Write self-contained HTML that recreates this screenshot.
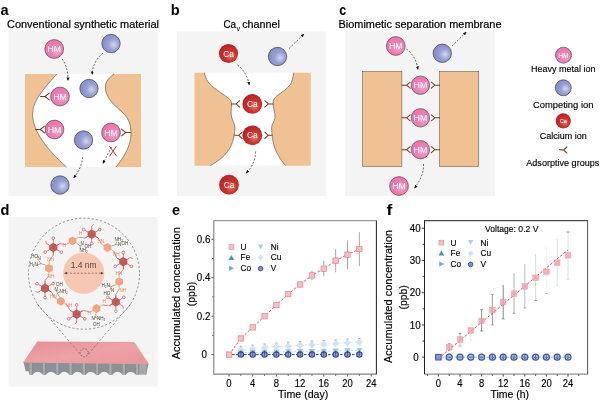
<!DOCTYPE html>
<html lang="en"><head><meta charset="utf-8"><title>Figure</title>
<style>html,body{margin:0;padding:0;background:#fff;}body{width:600px;height:402px;overflow:hidden;}svg{display:block;will-change:transform;}text{font-family:"Liberation Sans", sans-serif;}.lbl{font-weight:bold;font-size:14.6px;fill:#000;}.ttl{font-size:10.4px;fill:#000;stroke:#000;stroke-width:0.2px;}.lg{font-size:9.3px;fill:#000;stroke:#000;stroke-width:0.15px;}.ion{font-size:8px;fill:#fff;text-anchor:middle;}.tk{font-size:10.4px;fill:#000;stroke:#000;stroke-width:0.15px;}.ax{font-size:10.2px;fill:#000;stroke:#000;stroke-width:0.15px;}.ch{font-size:4.5px;fill:#4e3c2a;}.cho{font-size:4.6px;fill:#ee8558;}.chr{font-size:3.2px;fill:#c0504d;}</style></head><body>
<svg width="600" height="402" viewBox="0 0 600 402">
<defs>
<radialGradient id="gHM" cx="0.62" cy="0.6" r="0.7"><stop offset="0" stop-color="#f6a6cc"/><stop offset="0.45" stop-color="#ee7fb3"/><stop offset="1" stop-color="#ea6fa8"/></radialGradient>
<radialGradient id="gB" cx="0.64" cy="0.56" r="0.6"><stop offset="0" stop-color="#d3d7f0"/><stop offset="0.5" stop-color="#979fd3"/><stop offset="1" stop-color="#858ec9"/></radialGradient>
<radialGradient id="gCa" cx="0.6" cy="0.62" r="0.65"><stop offset="0" stop-color="#e8776a"/><stop offset="0.45" stop-color="#c9342f"/><stop offset="1" stop-color="#b81f24"/></radialGradient>
<linearGradient id="gPink" x1="0" y1="0" x2="1" y2="1"><stop offset="0" stop-color="#e58f95"/><stop offset="0.5" stop-color="#eca2a6"/><stop offset="1" stop-color="#e8969b"/></linearGradient>
<linearGradient id="gSlab" x1="0" y1="0" x2="0" y2="1"><stop offset="0" stop-color="#8d9196"/><stop offset="1" stop-color="#a9adb2"/></linearGradient>
<marker id="ah" viewBox="0 0 10 10" refX="7" refY="5" markerWidth="3.6" markerHeight="3.6" orient="auto-start-reverse" markerUnits="userSpaceOnUse"><path d="M0,0.8 L10,5 L0,9.2 z" fill="#111"/></marker>
</defs>
<rect width="600" height="402" fill="#fff"/>
<text class="lbl" x="0.4" y="14.7">a</text>
<text class="ttl" x="7" y="27.8" textLength="152" lengthAdjust="spacingAndGlyphs">Conventional synthetic material</text>
<rect x="8.5" y="31.5" width="149.3" height="164.7" fill="#f4f4f4"/>
<rect x="25" y="74" width="116" height="93" fill="#fff"/>
<path d="M25,74 L57,74 C46,86 33,100 32.6,113 C32.2,132 48,150 66.5,167 L25,167 Z" fill="#f0c192"/>
<path d="M57,74 C46,86 33,100 32.6,113 C32.2,132 48,150 66.5,167" fill="none" stroke="#3a2a1e" stroke-width="0.5"/>
<path d="M141,74 L114,74 C107,79 104.5,84 105.6,90 C107.5,101 118,108 124,114 C129,119 131,126 131,133 C131,146 124,157 116,167 L141,167 Z" fill="#f0c192"/>
<path d="M114,74 C107,79 104.5,84 105.6,90 C107.5,101 118,108 124,114 C129,119 131,126 131,133 C131,146 124,157 116,167" fill="none" stroke="#3a2a1e" stroke-width="0.5"/>
<path d="M40.5,96.5 L45.0,96.5 M49.2,93.1 L45.0,96.5 L49.2,99.9" fill="none" stroke="#6e4020" stroke-width="1.05" stroke-linejoin="round" stroke-linecap="round"/>
<path d="M35.5,129.5 L40.3,129.5 M44.5,126.1 L40.3,129.5 L44.5,132.9" fill="none" stroke="#6e4020" stroke-width="1.05" stroke-linejoin="round" stroke-linecap="round"/>
<path d="M130.5,132.5 L125.7,132.5 M121.5,129.1 L125.7,132.5 L121.5,135.9" fill="none" stroke="#6e4020" stroke-width="1.05" stroke-linejoin="round" stroke-linecap="round"/>
<circle cx="54.2" cy="49" r="9.4" fill="url(#gHM)" stroke="#3a3a3a" stroke-width="0.6"/>
<text class="ion" x="54.2" y="52.17" style="font-size:8.8px">HM</text>
<circle cx="111" cy="43.5" r="9.2" fill="url(#gB)" stroke="#2a2a2a" stroke-width="0.6"/>
<circle cx="60" cy="96.5" r="9.4" fill="url(#gHM)" stroke="#3a3a3a" stroke-width="0.6"/>
<text class="ion" x="60" y="99.67" style="font-size:8.8px">HM</text>
<circle cx="89" cy="88.5" r="9.2" fill="url(#gB)" stroke="#2a2a2a" stroke-width="0.6"/>
<circle cx="54.5" cy="129.5" r="9.4" fill="url(#gHM)" stroke="#3a3a3a" stroke-width="0.6"/>
<text class="ion" x="54.5" y="132.67" style="font-size:8.8px">HM</text>
<circle cx="83.5" cy="140" r="9.2" fill="url(#gB)" stroke="#2a2a2a" stroke-width="0.6"/>
<circle cx="111" cy="132.5" r="9.4" fill="url(#gHM)" stroke="#3a3a3a" stroke-width="0.6"/>
<text class="ion" x="111" y="135.67" style="font-size:8.8px">HM</text>
<circle cx="60" cy="185" r="9.2" fill="url(#gB)" stroke="#2a2a2a" stroke-width="0.6"/>
<path d="M62,59 C66,64 68,71 68,80" fill="none" stroke="#111" stroke-width="0.6" stroke-dasharray="2 1.5" marker-end="url(#ah)"/>
<path d="M103,53 C97,58 92.5,65 92.2,74" fill="none" stroke="#111" stroke-width="0.6" stroke-dasharray="2 1.5" marker-end="url(#ah)"/>
<path d="M82.6,157 C82,165 79,171 74,177.5" fill="none" stroke="#111" stroke-width="0.6" stroke-dasharray="2 1.5" marker-end="url(#ah)"/>
<path d="M111.5,147 L103.2,163" fill="none" stroke="#111" stroke-width="0.6" stroke-dasharray="2 1.5" marker-end="url(#ah)"/>
<path d="M109.4,146 L116.8,156.4 M116.4,146 L109.6,156.4" fill="none" stroke="#c8363a" stroke-width="1"/>
<text class="lbl" x="170.8" y="14.7">b</text>
<text class="ttl" x="223.5" y="27.8"><tspan textLength="12.6" lengthAdjust="spacingAndGlyphs">Ca</tspan><tspan dy="2.9" dx="0.3" style="font-size:7.2px;stroke-width:0.05px">v</tspan><tspan dy="-2.9" dx="2.2" textLength="37.6" lengthAdjust="spacingAndGlyphs">channel</tspan></text>
<rect x="177" y="31.5" width="148.9" height="164.7" fill="#f4f4f4"/>
<rect x="194.4" y="72.7" width="116.4" height="93" fill="#fff"/>
<path d="M204.4,72.7 C206,80 209,84 213,87 C218,91 223,94 227,97 C230,99 231.6,101 231.6,104 C231.4,109 230.6,113 231.6,117 C232.6,121 235,124 235,128 C235,131 234.4,133 234,136 C233,142 231,147 228,151 C224,157 217,162 210.2,165.7 L194.4,165.7 L194.4,72.7 Z" fill="#f0c192"/>
<path d="M204.4,72.7 C206,80 209,84 213,87 C218,91 223,94 227,97 C230,99 231.6,101 231.6,104 C231.4,109 230.6,113 231.6,117 C232.6,121 235,124 235,128 C235,131 234.4,133 234,136 C233,142 231,147 228,151 C224,157 217,162 210.2,165.7" fill="none" stroke="#3a2a1e" stroke-width="0.5"/>
<path d="M293.6,72.7 C293,78 292,82 290,85 C287,89 282,92 278,95 C274.5,97.5 273,100 273,103.5 C273,108 275.4,113 275,117.5 C274.6,121.5 271.6,124 271.6,128 C271.6,131 272,134 272.4,137.5 C273,143 274.6,148.5 277,153 C279.4,158 282.4,162 285.6,165.7 L310.8,165.7 L310.8,72.7 Z" fill="#f0c192"/>
<path d="M293.6,72.7 C293,78 292,82 290,85 C287,89 282,92 278,95 C274.5,97.5 273,100 273,103.5 C273,108 275.4,113 275,117.5 C274.6,121.5 271.6,124 271.6,128 C271.6,131 272,134 272.4,137.5 C273,143 274.6,148.5 277,153 C279.4,158 282.4,162 285.6,165.7" fill="none" stroke="#3a2a1e" stroke-width="0.5"/>
<path d="M231.5,103.9 L236.1,103.9 M239.7,100.7 L236.1,103.9 L239.7,107.10000000000001" fill="none" stroke="#6e4020" stroke-width="1.05" stroke-linejoin="round" stroke-linecap="round"/>
<path d="M273,103.9 L268.4,103.9 M264.79999999999995,100.7 L268.4,103.9 L264.79999999999995,107.10000000000001" fill="none" stroke="#6e4020" stroke-width="1.05" stroke-linejoin="round" stroke-linecap="round"/>
<path d="M234.6,135.3 L238.79999999999998,135.3 M242.2,132.10000000000002 L238.79999999999998,135.3 L242.2,138.5" fill="none" stroke="#6e4020" stroke-width="1.05" stroke-linejoin="round" stroke-linecap="round"/>
<path d="M272,135.3 L268.2,135.3 M264.8,132.10000000000002 L268.2,135.3 L264.8,138.5" fill="none" stroke="#6e4020" stroke-width="1.05" stroke-linejoin="round" stroke-linecap="round"/>
<circle cx="228.5" cy="53.5" r="9.6" fill="url(#gCa)"/>
<text class="ion" x="228.5" y="56.52" style="font-size:8.4px">Ca</text>
<circle cx="277.5" cy="56.5" r="9.2" fill="url(#gB)" stroke="#2a2a2a" stroke-width="0.6"/>
<circle cx="252.3" cy="103.9" r="9.9" fill="url(#gCa)"/>
<text class="ion" x="252.3" y="106.92" style="font-size:8.4px">Ca</text>
<circle cx="252.3" cy="135.3" r="9.9" fill="url(#gCa)"/>
<text class="ion" x="252.3" y="138.32" style="font-size:8.4px">Ca</text>
<circle cx="229" cy="184.7" r="9.9" fill="url(#gCa)"/>
<text class="ion" x="229" y="187.72" style="font-size:8.4px">Ca</text>
<path d="M237.5,65 C243,69 247.5,76 249.2,84.5" fill="none" stroke="#111" stroke-width="0.6" stroke-dasharray="2 1.5" marker-end="url(#ah)"/>
<path d="M289,48.5 L303.5,34.5" fill="none" stroke="#111" stroke-width="0.6" stroke-dasharray="2 1.5" marker-end="url(#ah)"/>
<path d="M255.6,151.5 C255.6,160 252,167 246.6,172.6" fill="none" stroke="#111" stroke-width="0.6" stroke-dasharray="2 1.5" marker-end="url(#ah)"/>
<text class="lbl" x="339.2" y="14.7" textLength="6.9" lengthAdjust="spacingAndGlyphs">c</text>
<text class="ttl" x="338.5" y="27.8" textLength="163" lengthAdjust="spacingAndGlyphs">Biomimetic separation membrane</text>
<rect x="345.2" y="31.5" width="149.6" height="164.5" fill="#f4f4f4"/>
<rect x="362.5" y="71.5" width="39.4" height="95" fill="#f0c192" stroke="#5a4a3e" stroke-width="0.5"/>
<rect x="439.6" y="71.5" width="39.2" height="95" fill="#f0c192" stroke="#5a4a3e" stroke-width="0.5"/>
<path d="M402,85.2 L406.6,85.2 M410.20000000000005,82.2 L406.6,85.2 L410.20000000000005,88.2" fill="none" stroke="#6e4020" stroke-width="1.05" stroke-linejoin="round" stroke-linecap="round"/>
<path d="M439.5,85.2 L434.9,85.2 M431.29999999999995,82.2 L434.9,85.2 L431.29999999999995,88.2" fill="none" stroke="#6e4020" stroke-width="1.05" stroke-linejoin="round" stroke-linecap="round"/>
<circle cx="420.4" cy="85.2" r="9.2" fill="url(#gHM)" stroke="#3a3a3a" stroke-width="0.6"/>
<text class="ion" x="420.4" y="88.37" style="font-size:8.8px">HM</text>
<path d="M402,117.8 L406.6,117.8 M410.20000000000005,114.8 L406.6,117.8 L410.20000000000005,120.8" fill="none" stroke="#6e4020" stroke-width="1.05" stroke-linejoin="round" stroke-linecap="round"/>
<path d="M439.5,117.8 L434.9,117.8 M431.29999999999995,114.8 L434.9,117.8 L431.29999999999995,120.8" fill="none" stroke="#6e4020" stroke-width="1.05" stroke-linejoin="round" stroke-linecap="round"/>
<circle cx="420.4" cy="117.8" r="9.2" fill="url(#gHM)" stroke="#3a3a3a" stroke-width="0.6"/>
<text class="ion" x="420.4" y="120.97" style="font-size:8.8px">HM</text>
<path d="M402,149.7 L406.6,149.7 M410.20000000000005,146.7 L406.6,149.7 L410.20000000000005,152.7" fill="none" stroke="#6e4020" stroke-width="1.05" stroke-linejoin="round" stroke-linecap="round"/>
<path d="M439.5,149.7 L434.9,149.7 M431.29999999999995,146.7 L434.9,149.7 L431.29999999999995,152.7" fill="none" stroke="#6e4020" stroke-width="1.05" stroke-linejoin="round" stroke-linecap="round"/>
<circle cx="420.4" cy="149.7" r="9.2" fill="url(#gHM)" stroke="#3a3a3a" stroke-width="0.6"/>
<text class="ion" x="420.4" y="152.87" style="font-size:8.8px">HM</text>
<circle cx="395.8" cy="46" r="9.4" fill="url(#gHM)" stroke="#3a3a3a" stroke-width="0.6"/>
<text class="ion" x="395.8" y="49.17" style="font-size:8.8px">HM</text>
<circle cx="442.3" cy="53.3" r="9.2" fill="url(#gB)" stroke="#2a2a2a" stroke-width="0.6"/>
<circle cx="399" cy="186" r="9.4" fill="url(#gHM)" stroke="#3a3a3a" stroke-width="0.6"/>
<text class="ion" x="399" y="189.17" style="font-size:8.8px">HM</text>
<path d="M406.5,49 C412,53 416.5,60 417.8,69" fill="none" stroke="#111" stroke-width="0.6" stroke-dasharray="2 1.5" marker-end="url(#ah)"/>
<path d="M452,46 L465.8,32.6" fill="none" stroke="#111" stroke-width="0.6" stroke-dasharray="2 1.5" marker-end="url(#ah)"/>
<path d="M423.5,164 C424,172 421,179 415,187.6" fill="none" stroke="#111" stroke-width="0.6" stroke-dasharray="2 1.5" marker-end="url(#ah)"/>
<circle cx="563.5" cy="55.2" r="8" fill="url(#gHM)" stroke="#3a3a3a" stroke-width="0.6"/>
<text class="ion" x="563.5" y="57.58" style="font-size:6.6px">HM</text>
<text class="lg" x="563.2" y="72.3" text-anchor="middle" textLength="64.5" lengthAdjust="spacingAndGlyphs">Heavy metal ion</text>
<circle cx="563.3" cy="87.8" r="8" fill="url(#gB)" stroke="#2a2a2a" stroke-width="0.6"/>
<text class="lg" x="563.2" y="107.8" text-anchor="middle" textLength="60.5" lengthAdjust="spacingAndGlyphs">Competing ion</text>
<circle cx="563.3" cy="120.8" r="7.6" fill="url(#gCa)"/>
<text class="ion" x="563.3" y="122.82" style="font-size:5.6px">Ca</text>
<text class="lg" x="563.2" y="138.9" text-anchor="middle" textLength="47" lengthAdjust="spacingAndGlyphs">Calcium ion</text>
<path d="M559.6,149.6 L563.6,150 M566.9,147 L563.6,150 L566.9,153.2" fill="none" stroke="#6e4020" stroke-width="1.1" stroke-linecap="round" stroke-linejoin="round"/>
<text class="lg" x="526.3" y="165.5" textLength="73" lengthAdjust="spacingAndGlyphs">Adsorptive groups</text>
<text class="lbl" x="0.6" y="214.6">d</text>
<rect x="8.5" y="217" width="149.3" height="169.5" fill="#f4f4f4"/>
<path d="M23.4,361.8 L148.6,363.6 L146.2,374.8 L146.2,374.8 Q142.5,368.6 138.8,374.8 L136.0,374.8 L136.0,374.8 Q130.8,368.6 125.5,374.8 L122.7,374.8 L122.7,374.8 Q117.5,368.6 112.2,374.8 L109.4,374.8 L109.4,374.8 Q104.2,368.6 98.9,374.8 L96.1,374.8 L96.1,374.8 Q90.8,368.6 85.6,374.8 L82.8,374.8 L82.8,374.8 Q77.6,368.6 72.3,374.8 L69.5,374.8 L69.5,374.8 Q64.2,368.6 59.0,374.8 L56.2,374.8 L56.2,374.8 Q51.0,368.6 45.7,374.8 L42.9,374.8 L42.9,374.8 Q37.6,368.6 32.4,374.8 L29.6,374.8 Q28.7,369.5 25.8,371.6 Z" fill="#8d9196"/>
<rect x="29.6" y="363" width="2.8" height="11.8" fill="#a9adb2"/>
<rect x="31.9" y="363" width="0.6" height="11.8" fill="#7c8085"/>
<rect x="42.9" y="363" width="2.8" height="11.8" fill="#a9adb2"/>
<rect x="45.2" y="363" width="0.6" height="11.8" fill="#7c8085"/>
<rect x="56.2" y="363" width="2.8" height="11.8" fill="#a9adb2"/>
<rect x="58.5" y="363" width="0.6" height="11.8" fill="#7c8085"/>
<rect x="69.5" y="363" width="2.8" height="11.8" fill="#a9adb2"/>
<rect x="71.8" y="363" width="0.6" height="11.8" fill="#7c8085"/>
<rect x="82.8" y="363" width="2.8" height="11.8" fill="#a9adb2"/>
<rect x="85.1" y="363" width="0.6" height="11.8" fill="#7c8085"/>
<rect x="96.1" y="363" width="2.8" height="11.8" fill="#a9adb2"/>
<rect x="98.4" y="363" width="0.6" height="11.8" fill="#7c8085"/>
<rect x="109.4" y="363" width="2.8" height="11.8" fill="#a9adb2"/>
<rect x="111.7" y="363" width="0.6" height="11.8" fill="#7c8085"/>
<rect x="122.7" y="363" width="2.8" height="11.8" fill="#a9adb2"/>
<rect x="125.0" y="363" width="0.6" height="11.8" fill="#7c8085"/>
<rect x="136.0" y="363" width="2.8" height="11.8" fill="#a9adb2"/>
<rect x="138.3" y="363" width="0.6" height="11.8" fill="#7c8085"/>
<path d="M139.4,363.4 L146.4,363.6 L146.2,374.8 L139.4,374.8 Z" fill="#a4a8ad"/>
<path d="M37.2,341.6 L134.4,341.9 L149,364.3 L23.2,362.6 Z" fill="url(#gPink)"/>
<circle cx="84" cy="273.7" r="55.5" fill="none" stroke="#5a5a5a" stroke-width="0.62" stroke-dasharray="2.3 1.9"/>
<circle cx="84.2" cy="352.8" r="4" fill="none" stroke="#4a4a4a" stroke-width="0.6" stroke-dasharray="1.6 1.2"/>
<path d="M37.5,304 L81.6,356 M130.6,304 L86.8,356" fill="none" stroke="#5e5e5e" stroke-width="0.58" stroke-dasharray="2.3 1.9"/>
<circle cx="83.7" cy="273.1" r="20.6" fill="#f6c8b3"/>
<text x="83.6" y="268.4" text-anchor="middle" style="font-size:8.6px;fill:#54433f" textLength="25.8" lengthAdjust="spacingAndGlyphs">1.4 nm</text>
<path d="M66.4,273.2 L101.4,273.2" stroke="#6a5a56" stroke-width="0.7" stroke-dasharray="2 1.6" fill="none"/>
<path d="M64,273.2 L67,271.8 L67,274.6 Z M103.8,273.2 L100.8,271.8 L100.8,274.6 Z" fill="#5a4a46"/>
<path d="M88.24,236.20 L85.12,238.00 L78.74,237.20" stroke="#c45a58" stroke-width="0.7" fill="none" stroke-linejoin="round"/>
<path d="M78.74,237.20 L76.14,238.70" stroke="#ee9673" stroke-width="0.8" fill="none"/>
<path d="M95.16,236.20 L98.28,238.00 L101.26,243.90" stroke="#c45a58" stroke-width="0.7" fill="none" stroke-linejoin="round"/>
<path d="M101.26,243.90 L103.86,245.40" stroke="#ee9673" stroke-width="0.8" fill="none"/>
<path d="M119.84,259.70 L116.72,257.90 L113.74,251.10" stroke="#c45a58" stroke-width="0.7" fill="none" stroke-linejoin="round"/>
<path d="M113.74,251.10 L111.14,249.60" stroke="#ee9673" stroke-width="0.8" fill="none"/>
<path d="M123.30,265.70 L123.30,269.30 L119.20,274.50" stroke="#c45a58" stroke-width="0.7" fill="none" stroke-linejoin="round"/>
<path d="M119.20,274.50 L119.20,277.50" stroke="#ee9673" stroke-width="0.8" fill="none"/>
<path d="M115.80,298.00 L115.80,294.40 L119.20,288.90" stroke="#c45a58" stroke-width="0.7" fill="none" stroke-linejoin="round"/>
<path d="M119.20,288.90 L119.20,285.90" stroke="#ee9673" stroke-width="0.8" fill="none"/>
<path d="M112.34,304.00 L109.22,305.80 L102.74,304.90" stroke="#c45a58" stroke-width="0.7" fill="none" stroke-linejoin="round"/>
<path d="M102.74,304.90 L100.14,306.40" stroke="#ee9673" stroke-width="0.8" fill="none"/>
<path d="M80.16,312.20 L83.28,310.40 L90.26,312.10" stroke="#c45a58" stroke-width="0.7" fill="none" stroke-linejoin="round"/>
<path d="M90.26,312.10 L92.86,310.60" stroke="#ee9673" stroke-width="0.8" fill="none"/>
<path d="M73.24,312.20 L70.12,310.40 L67.04,304.90" stroke="#c45a58" stroke-width="0.7" fill="none" stroke-linejoin="round"/>
<path d="M67.04,304.90 L64.44,303.40" stroke="#ee9673" stroke-width="0.8" fill="none"/>
<path d="M48.46,290.30 L51.58,292.10 L54.56,297.70" stroke="#c45a58" stroke-width="0.7" fill="none" stroke-linejoin="round"/>
<path d="M54.56,297.70 L57.16,299.20" stroke="#ee9673" stroke-width="0.8" fill="none"/>
<path d="M45.00,284.30 L45.00,280.70 L49.00,275.50" stroke="#c45a58" stroke-width="0.7" fill="none" stroke-linejoin="round"/>
<path d="M49.00,275.50 L49.00,272.50" stroke="#ee9673" stroke-width="0.8" fill="none"/>
<path d="M53.30,251.50 L53.30,255.10 L49.00,261.10" stroke="#c45a58" stroke-width="0.7" fill="none" stroke-linejoin="round"/>
<path d="M49.00,261.10 L49.00,264.10" stroke="#ee9673" stroke-width="0.8" fill="none"/>
<path d="M56.76,245.50 L59.88,243.70 L66.26,244.40" stroke="#c45a58" stroke-width="0.7" fill="none" stroke-linejoin="round"/>
<path d="M66.26,244.40 L68.86,242.90" stroke="#ee9673" stroke-width="0.8" fill="none"/>
<path d="M91.70,230.20 L91.70,226.00" stroke="#c45a58" stroke-width="0.75" fill="none"/>
<path d="M91.70,226.00 L93.69,224.33" stroke="#c45a58" stroke-width="0.7" fill="none"/>
<path d="M95.16,232.20 L98.45,230.30" stroke="#c45a58" stroke-width="0.75" fill="none"/>
<path d="M95.16,236.20 L97.76,237.70" stroke="#c45a58" stroke-width="0.75" fill="none"/>
<path d="M91.70,238.20 L91.70,242.00" stroke="#c45a58" stroke-width="0.75" fill="none"/>
<path d="M88.24,236.20 L85.64,237.70" stroke="#c45a58" stroke-width="0.75" fill="none"/>
<path d="M88.24,232.20 L84.95,230.30" stroke="#c45a58" stroke-width="0.75" fill="none"/>
<polygon points="95.77,236.55 91.70,238.90 87.63,236.55 87.63,231.85 91.70,229.50 95.77,231.85" fill="#c45a58"/>
<circle cx="83.65" cy="229.55" r="1.35" fill="#f4f4f4" stroke="#c45a58" stroke-width="0.7"/>
<circle cx="99.75" cy="229.55" r="1.35" fill="#f4f4f4" stroke="#c45a58" stroke-width="0.7"/>
<circle cx="91.70" cy="243.50" r="1.35" fill="#f4f4f4" stroke="#c45a58" stroke-width="0.7"/>
<path d="M123.30,257.70 L123.30,253.90" stroke="#c45a58" stroke-width="0.75" fill="none"/>
<path d="M126.76,259.70 L130.40,257.60" stroke="#c45a58" stroke-width="0.75" fill="none"/>
<path d="M130.40,257.60 L132.84,258.49" stroke="#c45a58" stroke-width="0.7" fill="none"/>
<path d="M126.76,263.70 L130.05,265.60" stroke="#c45a58" stroke-width="0.75" fill="none"/>
<path d="M123.30,265.70 L123.30,268.70" stroke="#c45a58" stroke-width="0.75" fill="none"/>
<path d="M119.84,263.70 L116.55,265.60" stroke="#c45a58" stroke-width="0.75" fill="none"/>
<path d="M119.84,259.70 L117.24,258.20" stroke="#c45a58" stroke-width="0.75" fill="none"/>
<polygon points="127.37,264.05 123.30,266.40 119.23,264.05 119.23,259.35 123.30,257.00 127.37,259.35" fill="#c45a58"/>
<circle cx="123.30" cy="252.40" r="1.35" fill="#f4f4f4" stroke="#c45a58" stroke-width="0.7"/>
<circle cx="131.35" cy="266.35" r="1.35" fill="#f4f4f4" stroke="#c45a58" stroke-width="0.7"/>
<circle cx="115.25" cy="266.35" r="1.35" fill="#f4f4f4" stroke="#c45a58" stroke-width="0.7"/>
<path d="M115.80,298.00 L115.80,295.00" stroke="#c45a58" stroke-width="0.75" fill="none"/>
<path d="M119.26,300.00 L122.55,298.10" stroke="#c45a58" stroke-width="0.75" fill="none"/>
<path d="M119.26,304.00 L122.90,306.10" stroke="#c45a58" stroke-width="0.75" fill="none"/>
<path d="M122.90,306.10 L123.35,308.66" stroke="#c45a58" stroke-width="0.7" fill="none"/>
<path d="M115.80,306.00 L115.80,309.80" stroke="#c45a58" stroke-width="0.75" fill="none"/>
<path d="M112.34,304.00 L109.74,305.50" stroke="#c45a58" stroke-width="0.75" fill="none"/>
<path d="M112.34,300.00 L109.05,298.10" stroke="#c45a58" stroke-width="0.75" fill="none"/>
<polygon points="119.87,304.35 115.80,306.70 111.73,304.35 111.73,299.65 115.80,297.30 119.87,299.65" fill="#c45a58"/>
<circle cx="123.85" cy="297.35" r="1.35" fill="#f4f4f4" stroke="#c45a58" stroke-width="0.7"/>
<circle cx="115.80" cy="311.30" r="1.35" fill="#f4f4f4" stroke="#c45a58" stroke-width="0.7"/>
<circle cx="107.75" cy="297.35" r="1.35" fill="#f4f4f4" stroke="#c45a58" stroke-width="0.7"/>
<path d="M76.70,310.20 L76.70,306.40" stroke="#c45a58" stroke-width="0.75" fill="none"/>
<path d="M80.16,312.20 L82.76,310.70" stroke="#c45a58" stroke-width="0.75" fill="none"/>
<path d="M80.16,316.20 L83.45,318.10" stroke="#c45a58" stroke-width="0.75" fill="none"/>
<path d="M76.70,318.20 L76.70,322.40" stroke="#c45a58" stroke-width="0.75" fill="none"/>
<path d="M76.70,322.40 L74.71,324.07" stroke="#c45a58" stroke-width="0.7" fill="none"/>
<path d="M73.24,316.20 L69.95,318.10" stroke="#c45a58" stroke-width="0.75" fill="none"/>
<path d="M73.24,312.20 L70.64,310.70" stroke="#c45a58" stroke-width="0.75" fill="none"/>
<polygon points="80.77,316.55 76.70,318.90 72.63,316.55 72.63,311.85 76.70,309.50 80.77,311.85" fill="#c45a58"/>
<circle cx="76.70" cy="304.90" r="1.35" fill="#f4f4f4" stroke="#c45a58" stroke-width="0.7"/>
<circle cx="84.75" cy="318.85" r="1.35" fill="#f4f4f4" stroke="#c45a58" stroke-width="0.7"/>
<circle cx="68.65" cy="318.85" r="1.35" fill="#f4f4f4" stroke="#c45a58" stroke-width="0.7"/>
<path d="M45.00,284.30 L45.00,281.30" stroke="#c45a58" stroke-width="0.75" fill="none"/>
<path d="M48.46,286.30 L51.75,284.40" stroke="#c45a58" stroke-width="0.75" fill="none"/>
<path d="M48.46,290.30 L51.06,291.80" stroke="#c45a58" stroke-width="0.75" fill="none"/>
<path d="M45.00,292.30 L45.00,296.10" stroke="#c45a58" stroke-width="0.75" fill="none"/>
<path d="M41.54,290.30 L37.90,292.40" stroke="#c45a58" stroke-width="0.75" fill="none"/>
<path d="M37.90,292.40 L35.46,291.51" stroke="#c45a58" stroke-width="0.7" fill="none"/>
<path d="M41.54,286.30 L38.25,284.40" stroke="#c45a58" stroke-width="0.75" fill="none"/>
<polygon points="49.07,290.65 45.00,293.00 40.93,290.65 40.93,285.95 45.00,283.60 49.07,285.95" fill="#c45a58"/>
<circle cx="53.05" cy="283.65" r="1.35" fill="#f4f4f4" stroke="#c45a58" stroke-width="0.7"/>
<circle cx="45.00" cy="297.60" r="1.35" fill="#f4f4f4" stroke="#c45a58" stroke-width="0.7"/>
<circle cx="36.95" cy="283.65" r="1.35" fill="#f4f4f4" stroke="#c45a58" stroke-width="0.7"/>
<path d="M53.30,243.50 L53.30,239.70" stroke="#c45a58" stroke-width="0.75" fill="none"/>
<path d="M56.76,245.50 L59.36,244.00" stroke="#c45a58" stroke-width="0.75" fill="none"/>
<path d="M56.76,249.50 L60.05,251.40" stroke="#c45a58" stroke-width="0.75" fill="none"/>
<path d="M53.30,251.50 L53.30,254.50" stroke="#c45a58" stroke-width="0.75" fill="none"/>
<path d="M49.84,249.50 L46.55,251.40" stroke="#c45a58" stroke-width="0.75" fill="none"/>
<path d="M49.84,245.50 L46.20,243.40" stroke="#c45a58" stroke-width="0.75" fill="none"/>
<path d="M46.20,243.40 L45.75,240.84" stroke="#c45a58" stroke-width="0.7" fill="none"/>
<polygon points="57.37,249.85 53.30,252.20 49.23,249.85 49.23,245.15 53.30,242.80 57.37,245.15" fill="#c45a58"/>
<circle cx="53.30" cy="238.20" r="1.35" fill="#f4f4f4" stroke="#c45a58" stroke-width="0.7"/>
<circle cx="61.35" cy="252.15" r="1.35" fill="#f4f4f4" stroke="#c45a58" stroke-width="0.7"/>
<circle cx="45.25" cy="252.15" r="1.35" fill="#f4f4f4" stroke="#c45a58" stroke-width="0.7"/>
<polygon points="76.31,243.00 72.50,245.20 68.69,243.00 68.69,238.60 72.50,236.40 76.31,238.60" fill="#f2a483"/>
<polygon points="111.31,249.70 107.50,251.90 103.69,249.70 103.69,245.30 107.50,243.10 111.31,245.30" fill="#f2a483"/>
<polygon points="123.01,283.90 119.20,286.10 115.39,283.90 115.39,279.50 119.20,277.30 123.01,279.50" fill="#f2a483"/>
<polygon points="100.31,310.70 96.50,312.90 92.69,310.70 92.69,306.30 96.50,304.10 100.31,306.30" fill="#f2a483"/>
<polygon points="64.61,303.50 60.80,305.70 56.99,303.50 56.99,299.10 60.80,296.90 64.61,299.10" fill="#f2a483"/>
<polygon points="52.81,270.50 49.00,272.70 45.19,270.50 45.19,266.10 49.00,263.90 52.81,266.10" fill="#f2a483"/>
<text class="ch" x="80.5" y="244.5">N</text>
<text class="ch" x="84.5" y="248.4">OH</text>
<text class="ch" x="79.5" y="251.8">NH₂</text>
<path d="M76.5,243 L80,246 L83,244.5 M80,246 L80.6,249" stroke="#5a4632" stroke-width="0.45" fill="none"/>
<text class="ch" x="114.5" y="240.5">NH₂</text>
<text class="ch" x="121.5" y="244.5">OH</text>
<text class="ch" x="118" y="246.2">N</text>
<path d="M111.5,246 L115.5,244.6 L117,241.5 M115.5,244.6 L119.5,245" stroke="#5a4632" stroke-width="0.45" fill="none"/>
<text class="ch" x="31.2" y="258">HO</text>
<text class="ch" x="29.5" y="266.4">H₂N</text>
<text class="ch" x="37.5" y="260.4">N</text>
<path d="M45.6,265 L40.8,263.6 L38.8,260.4 M40.8,263.6 L36.6,265.4" stroke="#5a4632" stroke-width="0.45" fill="none"/>
<text class="ch" x="56" y="285.8">OH</text>
<text class="ch" x="54.4" y="291.4">N</text>
<text class="ch" x="59.5" y="292.6">NH₂</text>
<path d="M60,297.6 L57.4,293.4 L60,291.6 M57.4,293.4 L56,289.4" stroke="#5a4632" stroke-width="0.45" fill="none"/>
<text class="ch" x="101.5" y="286.6">H₂N</text>
<text class="ch" x="103.5" y="294.6">HO</text>
<text class="ch" x="111" y="292.4">N</text>
<path d="M116,284.6 L111.4,286.4 L110,290 M111.4,286.4 L107.6,285.4" stroke="#5a4632" stroke-width="0.45" fill="none"/>
<text class="ch" x="91.6" y="320.4">N</text>
<text class="ch" x="97" y="320.4">NH₂</text>
<text class="ch" x="93" y="326.2">OH</text>
<path d="M96,312.6 L95.6,317.4 L98.6,318.8 M95.6,317.4 L93.2,319" stroke="#5a4632" stroke-width="0.45" fill="none"/>
<text class="cho" x="79" y="234.8">H</text>
<text class="cho" x="62.5" y="246.6">H</text>
<text class="cho" x="97.5" y="243.4">HN</text>
<text class="cho" x="113" y="255.6">NH</text>
<text class="cho" x="115.5" y="274.8">HN</text>
<text class="cho" x="119.5" y="292">NH</text>
<text class="cho" x="102.5" y="303.4">H</text>
<text class="cho" x="87.5" y="314.6">H</text>
<text class="cho" x="65.6" y="306.6">NH</text>
<text class="cho" x="50.2" y="297.6">HN</text>
<text class="cho" x="47.6" y="278">NH</text>
<text class="cho" x="47.2" y="261">NH</text>
<text class="lbl" x="172" y="214.8">e</text>
<rect x="213.8" y="220.7" width="162.59999999999997" height="153.3" fill="#fff"/>
<path d="M213.3,220.7 H376.9" stroke="#808080" stroke-width="1"/>
<path d="M213.3,374.0 H376.9" stroke="#808080" stroke-width="1.25"/>
<path d="M213.8,220.7 V374.0" stroke="#7a7a7a" stroke-width="1.05"/>
<path d="M376.4,220.7 V374.0" stroke="#2a2a2a" stroke-width="1.05"/>
<path d="M213.6,354.60 h-2.2" stroke="#4a4a4a" stroke-width="0.9"/>
<path d="M213.6,335.38 h-1.5" stroke="#4a4a4a" stroke-width="0.9"/>
<path d="M213.6,316.16 h-2.2" stroke="#4a4a4a" stroke-width="0.9"/>
<path d="M213.6,296.94 h-1.5" stroke="#4a4a4a" stroke-width="0.9"/>
<path d="M213.6,277.72 h-2.2" stroke="#4a4a4a" stroke-width="0.9"/>
<path d="M213.6,258.50 h-1.5" stroke="#4a4a4a" stroke-width="0.9"/>
<path d="M213.6,239.28 h-2.2" stroke="#4a4a4a" stroke-width="0.9"/>
<text class="tk" x="204.2" y="358.0" text-anchor="middle" textLength="5.44" lengthAdjust="spacingAndGlyphs" style="font-size:10.4px" >0</text>
<text class="tk" x="203.6" y="319.56" text-anchor="middle" textLength="13.59" lengthAdjust="spacingAndGlyphs" style="font-size:10.4px" >0.2</text>
<text class="tk" x="203.6" y="281.12" text-anchor="middle" textLength="13.59" lengthAdjust="spacingAndGlyphs" style="font-size:10.4px" >0.4</text>
<text class="tk" x="203.6" y="242.68" text-anchor="middle" textLength="13.59" lengthAdjust="spacingAndGlyphs" style="font-size:10.4px" >0.6</text>
<path d="M229.00,374.4 v2.2" stroke="#4a4a4a" stroke-width="0.9"/>
<path d="M240.85,374.4 v1.5" stroke="#4a4a4a" stroke-width="0.9"/>
<path d="M252.70,374.4 v2.2" stroke="#4a4a4a" stroke-width="0.9"/>
<path d="M264.55,374.4 v1.5" stroke="#4a4a4a" stroke-width="0.9"/>
<path d="M276.40,374.4 v2.2" stroke="#4a4a4a" stroke-width="0.9"/>
<path d="M288.25,374.4 v1.5" stroke="#4a4a4a" stroke-width="0.9"/>
<path d="M300.10,374.4 v2.2" stroke="#4a4a4a" stroke-width="0.9"/>
<path d="M311.95,374.4 v1.5" stroke="#4a4a4a" stroke-width="0.9"/>
<path d="M323.80,374.4 v2.2" stroke="#4a4a4a" stroke-width="0.9"/>
<path d="M335.65,374.4 v1.5" stroke="#4a4a4a" stroke-width="0.9"/>
<path d="M347.50,374.4 v2.2" stroke="#4a4a4a" stroke-width="0.9"/>
<path d="M359.35,374.4 v1.5" stroke="#4a4a4a" stroke-width="0.9"/>
<path d="M371.20,374.4 v2.2" stroke="#4a4a4a" stroke-width="0.9"/>
<text class="tk" x="229.0" y="387.4" text-anchor="middle" textLength="5.26" lengthAdjust="spacingAndGlyphs" style="font-size:10.4px" >0</text>
<text class="tk" x="252.7" y="387.4" text-anchor="middle" textLength="5.26" lengthAdjust="spacingAndGlyphs" style="font-size:10.4px" >4</text>
<text class="tk" x="276.4" y="387.4" text-anchor="middle" textLength="5.26" lengthAdjust="spacingAndGlyphs" style="font-size:10.4px" >8</text>
<text class="tk" x="300.1" y="387.4" text-anchor="middle" textLength="10.53" lengthAdjust="spacingAndGlyphs" style="font-size:10.4px" >12</text>
<text class="tk" x="323.8" y="387.4" text-anchor="middle" textLength="10.53" lengthAdjust="spacingAndGlyphs" style="font-size:10.4px" >16</text>
<text class="tk" x="347.5" y="387.4" text-anchor="middle" textLength="10.53" lengthAdjust="spacingAndGlyphs" style="font-size:10.4px" >20</text>
<text class="tk" x="371.2" y="387.4" text-anchor="middle" textLength="10.53" lengthAdjust="spacingAndGlyphs" style="font-size:10.4px" >24</text>
<text class="ax" x="303.2" y="398.4" text-anchor="middle" textLength="50.4" lengthAdjust="spacingAndGlyphs">Time (day)</text>
<text class="ax" transform="translate(180.2,293.2) rotate(-90)" text-anchor="middle" textLength="132" lengthAdjust="spacingAndGlyphs">Accumulated concentration</text>
<text class="ax" transform="translate(194.7,294) rotate(-90)" text-anchor="middle" textLength="24.3" lengthAdjust="spacingAndGlyphs">(ppb)</text>
<rect x="229.00" y="244.60" width="4.8" height="4.8" fill="#f6bcc6" stroke="#e88a98" stroke-width="0.6" opacity="1"/>
<path d="M228.6,259.90000000000003 L234.20000000000002,259.90000000000003 L231.4,255.00000000000003 Z" fill="#4a90c8"/>
<path d="M229.1,265.4 L229.1,271.0 L234.0,268.2 Z" fill="#6aaedb"/>
<path d="M257.8,244.4 L263.40000000000003,244.4 L260.6,249.4 Z" fill="#a6d2ea"/>
<path d="M257.6,257.6 L260.6,254.60000000000002 L263.6,257.6 L260.6,260.6 Z" fill="#d3e3f3"/>
<circle cx="260.6" cy="268.59999999999997" r="2.3" fill="#7f90d4" stroke="#3347ac" stroke-width="0.9"/>
<text class="lg" x="240.6" y="249.6" text-anchor="start" textLength="5.98" lengthAdjust="spacingAndGlyphs" style="font-size:9.0px" >U</text>
<text class="lg" x="240.6" y="260.0" text-anchor="start" textLength="9.66" lengthAdjust="spacingAndGlyphs" style="font-size:9.0px" >Fe</text>
<text class="lg" x="240.6" y="270.9" text-anchor="start" textLength="10.58" lengthAdjust="spacingAndGlyphs" style="font-size:9.0px" >Co</text>
<text class="lg" x="270.8" y="249.6" text-anchor="start" textLength="7.82" lengthAdjust="spacingAndGlyphs" style="font-size:9.0px" >Ni</text>
<text class="lg" x="270.8" y="260.0" text-anchor="start" textLength="10.58" lengthAdjust="spacingAndGlyphs" style="font-size:9.0px" >Cu</text>
<text class="lg" x="270.8" y="270.9" text-anchor="start" textLength="5.52" lengthAdjust="spacingAndGlyphs" style="font-size:9.0px" >V</text>
<polyline points="240.85,349.99 252.70,348.83 264.55,347.68 276.40,346.72 288.25,345.95 300.10,345.37 311.95,344.80 323.80,344.22 335.65,343.45 347.50,342.68 359.35,342.11" fill="none" stroke="#d7e6f4" stroke-width="0.9" stroke-dasharray="2.4 1.4"/>
<path d="M237.35,349.99 L240.85,346.49 L244.35,349.99 L240.85,353.49 Z" fill="#d3e3f3" stroke="#c6daee" stroke-width="0.3"/>
<path d="M239.65,346.29 h2.4" stroke="#777" stroke-width="0.6"/>
<path d="M249.20,348.83 L252.70,345.33 L256.20,348.83 L252.70,352.33 Z" fill="#d3e3f3" stroke="#c6daee" stroke-width="0.3"/>
<path d="M251.50,345.13 h2.4" stroke="#777" stroke-width="0.6"/>
<path d="M261.05,347.68 L264.55,344.18 L268.05,347.68 L264.55,351.18 Z" fill="#d3e3f3" stroke="#c6daee" stroke-width="0.3"/>
<path d="M263.35,343.98 h2.4" stroke="#777" stroke-width="0.6"/>
<path d="M272.90,346.72 L276.40,343.22 L279.90,346.72 L276.40,350.22 Z" fill="#d3e3f3" stroke="#c6daee" stroke-width="0.3"/>
<path d="M275.20,343.02 h2.4" stroke="#777" stroke-width="0.6"/>
<path d="M284.75,345.95 L288.25,342.45 L291.75,345.95 L288.25,349.45 Z" fill="#d3e3f3" stroke="#c6daee" stroke-width="0.3"/>
<path d="M287.05,342.25 h2.4" stroke="#777" stroke-width="0.6"/>
<path d="M296.60,345.37 L300.10,341.87 L303.60,345.37 L300.10,348.87 Z" fill="#d3e3f3" stroke="#c6daee" stroke-width="0.3"/>
<path d="M298.90,341.67 h2.4" stroke="#777" stroke-width="0.6"/>
<path d="M308.45,344.80 L311.95,341.30 L315.45,344.80 L311.95,348.30 Z" fill="#d3e3f3" stroke="#c6daee" stroke-width="0.3"/>
<path d="M310.75,341.10 h2.4" stroke="#777" stroke-width="0.6"/>
<path d="M320.30,344.22 L323.80,340.72 L327.30,344.22 L323.80,347.72 Z" fill="#d3e3f3" stroke="#c6daee" stroke-width="0.3"/>
<path d="M322.60,340.52 h2.4" stroke="#777" stroke-width="0.6"/>
<path d="M332.15,343.45 L335.65,339.95 L339.15,343.45 L335.65,346.95 Z" fill="#d3e3f3" stroke="#c6daee" stroke-width="0.3"/>
<path d="M334.45,339.75 h2.4" stroke="#777" stroke-width="0.6"/>
<path d="M344.00,342.68 L347.50,339.18 L351.00,342.68 L347.50,346.18 Z" fill="#d3e3f3" stroke="#c6daee" stroke-width="0.3"/>
<path d="M346.30,338.98 h2.4" stroke="#777" stroke-width="0.6"/>
<path d="M355.85,342.11 L359.35,338.61 L362.85,342.11 L359.35,345.61 Z" fill="#d3e3f3" stroke="#c6daee" stroke-width="0.3"/>
<path d="M358.15,338.41 h2.4" stroke="#777" stroke-width="0.6"/>
<polyline points="240.85,352.87 252.70,352.49 264.55,352.10 276.40,351.91 288.25,351.72 300.10,351.52 311.95,351.33 323.80,351.14 335.65,350.95 347.50,350.76 359.35,350.37" fill="none" stroke="#b4d9ee" stroke-width="0.9" stroke-dasharray="2.4 1.4"/>
<path d="M237.65,350.47 L244.05,350.47 L240.85,355.87 Z" fill="#9fcde6"/>
<path d="M249.50,350.09 L255.90,350.09 L252.70,355.49 Z" fill="#9fcde6"/>
<path d="M261.35,349.70 L267.75,349.70 L264.55,355.10 Z" fill="#9fcde6"/>
<path d="M273.20,349.51 L279.60,349.51 L276.40,354.91 Z" fill="#9fcde6"/>
<path d="M285.05,349.32 L291.45,349.32 L288.25,354.72 Z" fill="#9fcde6"/>
<path d="M296.90,349.12 L303.30,349.12 L300.10,354.52 Z" fill="#9fcde6"/>
<path d="M308.75,348.93 L315.15,348.93 L311.95,354.33 Z" fill="#9fcde6"/>
<path d="M320.60,348.74 L327.00,348.74 L323.80,354.14 Z" fill="#9fcde6"/>
<path d="M332.45,348.55 L338.85,348.55 L335.65,353.95 Z" fill="#9fcde6"/>
<path d="M344.30,348.36 L350.70,348.36 L347.50,353.76 Z" fill="#9fcde6"/>
<path d="M356.15,347.97 L362.55,347.97 L359.35,353.37 Z" fill="#9fcde6"/>
<path d="M232.00,354.60 H359.35" stroke="#2f43a8" stroke-width="1" stroke-dasharray="2.6 1.4"/>
<path d="M238.25,352.00 L238.25,357.20 L243.45,354.60 Z" fill="#6aaedb"/>
<path d="M238.05,356.60 L243.65,356.60 L240.85,351.80 Z" fill="#5a9fd0"/>
<circle cx="240.85" cy="354.60" r="2.7" fill="#8aa4da" fill-opacity="0.8" stroke="#2f43a8" stroke-width="1.1"/>
<path d="M240.85,350.40 V356.20" stroke="#444" stroke-width="0.7"/>
<path d="M250.10,352.00 L250.10,357.20 L255.30,354.60 Z" fill="#6aaedb"/>
<path d="M249.90,356.60 L255.50,356.60 L252.70,351.80 Z" fill="#5a9fd0"/>
<circle cx="252.70" cy="354.60" r="2.7" fill="#8aa4da" fill-opacity="0.8" stroke="#2f43a8" stroke-width="1.1"/>
<path d="M252.70,350.40 V356.20" stroke="#444" stroke-width="0.7"/>
<path d="M261.95,352.00 L261.95,357.20 L267.15,354.60 Z" fill="#6aaedb"/>
<path d="M261.75,356.60 L267.35,356.60 L264.55,351.80 Z" fill="#5a9fd0"/>
<circle cx="264.55" cy="354.60" r="2.7" fill="#8aa4da" fill-opacity="0.8" stroke="#2f43a8" stroke-width="1.1"/>
<path d="M264.55,350.40 V356.20" stroke="#444" stroke-width="0.7"/>
<path d="M273.80,352.00 L273.80,357.20 L279.00,354.60 Z" fill="#6aaedb"/>
<path d="M273.60,356.60 L279.20,356.60 L276.40,351.80 Z" fill="#5a9fd0"/>
<circle cx="276.40" cy="354.60" r="2.7" fill="#8aa4da" fill-opacity="0.8" stroke="#2f43a8" stroke-width="1.1"/>
<path d="M276.40,350.40 V356.20" stroke="#444" stroke-width="0.7"/>
<path d="M285.65,352.00 L285.65,357.20 L290.85,354.60 Z" fill="#6aaedb"/>
<path d="M285.45,356.60 L291.05,356.60 L288.25,351.80 Z" fill="#5a9fd0"/>
<circle cx="288.25" cy="354.60" r="2.7" fill="#8aa4da" fill-opacity="0.8" stroke="#2f43a8" stroke-width="1.1"/>
<path d="M288.25,350.40 V356.20" stroke="#444" stroke-width="0.7"/>
<path d="M297.50,352.00 L297.50,357.20 L302.70,354.60 Z" fill="#6aaedb"/>
<path d="M297.30,356.60 L302.90,356.60 L300.10,351.80 Z" fill="#5a9fd0"/>
<circle cx="300.10" cy="354.60" r="2.7" fill="#8aa4da" fill-opacity="0.8" stroke="#2f43a8" stroke-width="1.1"/>
<path d="M300.10,350.40 V356.20" stroke="#444" stroke-width="0.7"/>
<path d="M309.35,352.00 L309.35,357.20 L314.55,354.60 Z" fill="#6aaedb"/>
<path d="M309.15,356.60 L314.75,356.60 L311.95,351.80 Z" fill="#5a9fd0"/>
<circle cx="311.95" cy="354.60" r="2.7" fill="#8aa4da" fill-opacity="0.8" stroke="#2f43a8" stroke-width="1.1"/>
<path d="M311.95,350.40 V356.20" stroke="#444" stroke-width="0.7"/>
<path d="M321.20,352.00 L321.20,357.20 L326.40,354.60 Z" fill="#6aaedb"/>
<path d="M321.00,356.60 L326.60,356.60 L323.80,351.80 Z" fill="#5a9fd0"/>
<circle cx="323.80" cy="354.60" r="2.7" fill="#8aa4da" fill-opacity="0.8" stroke="#2f43a8" stroke-width="1.1"/>
<path d="M323.80,350.40 V356.20" stroke="#444" stroke-width="0.7"/>
<path d="M333.05,352.00 L333.05,357.20 L338.25,354.60 Z" fill="#6aaedb"/>
<path d="M332.85,356.60 L338.45,356.60 L335.65,351.80 Z" fill="#5a9fd0"/>
<circle cx="335.65" cy="354.60" r="2.7" fill="#8aa4da" fill-opacity="0.8" stroke="#2f43a8" stroke-width="1.1"/>
<path d="M335.65,350.40 V356.20" stroke="#444" stroke-width="0.7"/>
<path d="M344.90,352.00 L344.90,357.20 L350.10,354.60 Z" fill="#6aaedb"/>
<path d="M344.70,356.60 L350.30,356.60 L347.50,351.80 Z" fill="#5a9fd0"/>
<circle cx="347.50" cy="354.60" r="2.7" fill="#8aa4da" fill-opacity="0.8" stroke="#2f43a8" stroke-width="1.1"/>
<path d="M347.50,350.40 V356.20" stroke="#444" stroke-width="0.7"/>
<path d="M356.75,352.00 L356.75,357.20 L361.95,354.60 Z" fill="#6aaedb"/>
<path d="M356.55,356.60 L362.15,356.60 L359.35,351.80 Z" fill="#5a9fd0"/>
<circle cx="359.35" cy="354.60" r="2.7" fill="#8aa4da" fill-opacity="0.8" stroke="#2f43a8" stroke-width="1.1"/>
<path d="M359.35,350.40 V356.20" stroke="#444" stroke-width="0.7"/>
<path d="M252.70,326.25 V328.56" stroke="#6a6a6a" stroke-width="0.6"/>
<path d="M264.55,314.62 V317.70" stroke="#6a6a6a" stroke-width="0.6"/>
<path d="M276.40,303.09 V306.93" stroke="#6a6a6a" stroke-width="0.6"/>
<path d="M288.25,291.75 V296.36" stroke="#6a6a6a" stroke-width="0.6"/>
<path d="M300.10,281.37 V287.52" stroke="#6a6a6a" stroke-width="0.6"/>
<path d="M311.95,270.61 V280.22" stroke="#6a6a6a" stroke-width="0.6"/>
<path d="M323.80,261.00 V276.37" stroke="#6a6a6a" stroke-width="0.6"/>
<path d="M335.65,248.89 V272.34" stroke="#6a6a6a" stroke-width="0.6"/>
<path d="M347.50,240.43 V268.88" stroke="#6a6a6a" stroke-width="0.6"/>
<path d="M359.35,232.17 V266.00" stroke="#6a6a6a" stroke-width="0.6"/>
<polyline points="229.00,354.60 240.85,338.46 252.70,327.40 264.55,316.16 276.40,305.01 288.25,294.06 300.10,284.45 311.95,275.41 323.80,268.69 335.65,260.61 347.50,254.66 359.35,249.08" fill="none" stroke="#d23a4a" stroke-width="0.85" stroke-dasharray="2.6 1.6"/>
<rect x="226.30" y="351.90" width="5.4" height="5.4" fill="#f7bec7" stroke="#e5808f" stroke-width="0.7" opacity="1"/>
<rect x="238.15" y="335.76" width="5.4" height="5.4" fill="#f7bec7" stroke="#e5808f" stroke-width="0.7" opacity="1"/>
<rect x="250.00" y="324.70" width="5.4" height="5.4" fill="#f7bec7" stroke="#e5808f" stroke-width="0.7" opacity="1"/>
<rect x="261.85" y="313.46" width="5.4" height="5.4" fill="#f7bec7" stroke="#e5808f" stroke-width="0.7" opacity="1"/>
<rect x="273.70" y="302.31" width="5.4" height="5.4" fill="#f7bec7" stroke="#e5808f" stroke-width="0.7" opacity="1"/>
<rect x="285.55" y="291.36" width="5.4" height="5.4" fill="#f7bec7" stroke="#e5808f" stroke-width="0.7" opacity="1"/>
<rect x="297.40" y="281.75" width="5.4" height="5.4" fill="#f7bec7" stroke="#e5808f" stroke-width="0.7" opacity="1"/>
<rect x="309.25" y="272.71" width="5.4" height="5.4" fill="#f7bec7" stroke="#e5808f" stroke-width="0.7" opacity="1"/>
<rect x="321.10" y="265.99" width="5.4" height="5.4" fill="#f7bec7" stroke="#e5808f" stroke-width="0.7" opacity="1"/>
<rect x="332.95" y="257.91" width="5.4" height="5.4" fill="#f7bec7" stroke="#e5808f" stroke-width="0.7" opacity="1"/>
<rect x="344.80" y="251.96" width="5.4" height="5.4" fill="#f7bec7" stroke="#e5808f" stroke-width="0.7" opacity="1"/>
<rect x="356.65" y="246.38" width="5.4" height="5.4" fill="#f7bec7" stroke="#e5808f" stroke-width="0.7" opacity="1"/>
<text class="lbl" x="386.4" y="214.8" textLength="5.8" lengthAdjust="spacingAndGlyphs">f</text>
<rect x="424.5" y="220.7" width="163.10000000000002" height="153.3" fill="#fff"/>
<path d="M424.0,220.7 H588.1" stroke="#1e1e1e" stroke-width="1"/>
<path d="M424.0,374.0 H588.1" stroke="#909090" stroke-width="1.25"/>
<path d="M424.5,220.7 V374.0" stroke="#222" stroke-width="1.05"/>
<path d="M587.6,220.7 V374.0" stroke="#5a5a5a" stroke-width="1.05"/>
<path d="M424,357.20 h-2.2" stroke="#2a2a2a" stroke-width="0.9"/>
<path d="M424,341.07 h-1.5" stroke="#2a2a2a" stroke-width="0.9"/>
<path d="M424,324.95 h-2.2" stroke="#2a2a2a" stroke-width="0.9"/>
<path d="M424,308.82 h-1.5" stroke="#2a2a2a" stroke-width="0.9"/>
<path d="M424,292.70 h-2.2" stroke="#2a2a2a" stroke-width="0.9"/>
<path d="M424,276.57 h-1.5" stroke="#2a2a2a" stroke-width="0.9"/>
<path d="M424,260.45 h-2.2" stroke="#2a2a2a" stroke-width="0.9"/>
<path d="M424,244.32 h-1.5" stroke="#2a2a2a" stroke-width="0.9"/>
<path d="M424,228.20 h-2.2" stroke="#2a2a2a" stroke-width="0.9"/>
<text class="tk" x="416" y="360.9" text-anchor="middle" textLength="5.44" lengthAdjust="spacingAndGlyphs" style="font-size:10.4px" >0</text>
<text class="tk" x="415.3" y="328.65" text-anchor="middle" textLength="10.87" lengthAdjust="spacingAndGlyphs" style="font-size:10.4px" >10</text>
<text class="tk" x="415.3" y="296.4" text-anchor="middle" textLength="10.87" lengthAdjust="spacingAndGlyphs" style="font-size:10.4px" >20</text>
<text class="tk" x="415.3" y="264.15" text-anchor="middle" textLength="10.87" lengthAdjust="spacingAndGlyphs" style="font-size:10.4px" >30</text>
<text class="tk" x="415.3" y="231.9" text-anchor="middle" textLength="10.87" lengthAdjust="spacingAndGlyphs" style="font-size:10.4px" >40</text>
<path d="M427.60,374.4 v1.5" stroke="#2a2a2a" stroke-width="0.9"/>
<path d="M438.40,374.4 v2.2" stroke="#2a2a2a" stroke-width="0.9"/>
<path d="M449.20,374.4 v1.5" stroke="#2a2a2a" stroke-width="0.9"/>
<path d="M460.00,374.4 v2.2" stroke="#2a2a2a" stroke-width="0.9"/>
<path d="M470.80,374.4 v1.5" stroke="#2a2a2a" stroke-width="0.9"/>
<path d="M481.60,374.4 v2.2" stroke="#2a2a2a" stroke-width="0.9"/>
<path d="M492.40,374.4 v1.5" stroke="#2a2a2a" stroke-width="0.9"/>
<path d="M503.20,374.4 v2.2" stroke="#2a2a2a" stroke-width="0.9"/>
<path d="M514.00,374.4 v1.5" stroke="#2a2a2a" stroke-width="0.9"/>
<path d="M524.80,374.4 v2.2" stroke="#2a2a2a" stroke-width="0.9"/>
<path d="M535.60,374.4 v1.5" stroke="#2a2a2a" stroke-width="0.9"/>
<path d="M546.40,374.4 v2.2" stroke="#2a2a2a" stroke-width="0.9"/>
<path d="M557.20,374.4 v1.5" stroke="#2a2a2a" stroke-width="0.9"/>
<path d="M568.00,374.4 v2.2" stroke="#2a2a2a" stroke-width="0.9"/>
<path d="M578.80,374.4 v1.5" stroke="#2a2a2a" stroke-width="0.9"/>
<text class="tk" x="438.4" y="387.3" text-anchor="middle" textLength="5.26" lengthAdjust="spacingAndGlyphs" style="font-size:10.4px" >0</text>
<text class="tk" x="460.0" y="387.3" text-anchor="middle" textLength="5.26" lengthAdjust="spacingAndGlyphs" style="font-size:10.4px" >4</text>
<text class="tk" x="481.6" y="387.3" text-anchor="middle" textLength="5.26" lengthAdjust="spacingAndGlyphs" style="font-size:10.4px" >8</text>
<text class="tk" x="503.2" y="387.3" text-anchor="middle" textLength="10.53" lengthAdjust="spacingAndGlyphs" style="font-size:10.4px" >12</text>
<text class="tk" x="524.8" y="387.3" text-anchor="middle" textLength="10.53" lengthAdjust="spacingAndGlyphs" style="font-size:10.4px" >16</text>
<text class="tk" x="546.4" y="387.3" text-anchor="middle" textLength="10.53" lengthAdjust="spacingAndGlyphs" style="font-size:10.4px" >20</text>
<text class="tk" x="568.0" y="387.3" text-anchor="middle" textLength="10.53" lengthAdjust="spacingAndGlyphs" style="font-size:10.4px" >24</text>
<text class="ax" x="509.8" y="398.4" text-anchor="middle" textLength="38.6" lengthAdjust="spacingAndGlyphs">Time (h)</text>
<text class="ax" transform="translate(391.8,296.6) rotate(-90)" text-anchor="middle" textLength="133" lengthAdjust="spacingAndGlyphs">Accumulated concentration</text>
<text class="ax" transform="translate(406.5,297.4) rotate(-90)" text-anchor="middle" textLength="24.3" lengthAdjust="spacingAndGlyphs">(ppb)</text>
<text class="lg" x="485" y="232.4" textLength="53.4" lengthAdjust="spacingAndGlyphs" style="font-size:9.2px">Voltage: 0.2 V</text>
<rect x="439.00" y="240.20" width="4.8" height="4.8" fill="#f6bcc6" stroke="#e88a98" stroke-width="0.6" opacity="1"/>
<path d="M438.59999999999997,255.5 L444.2,255.5 L441.4,250.6 Z" fill="#4a90c8"/>
<path d="M439.09999999999997,261.2 L439.09999999999997,266.8 L444.0,264 Z" fill="#6aaedb"/>
<path d="M467.8,240.0 L473.40000000000003,240.0 L470.6,245.0 Z" fill="#a6d2ea"/>
<path d="M467.6,253.2 L470.6,250.2 L473.6,253.2 L470.6,256.2 Z" fill="#d3e3f3"/>
<circle cx="470.6" cy="264.4" r="2.3" fill="#7f90d4" stroke="#3347ac" stroke-width="0.9"/>
<text class="lg" x="450.6" y="245.8" text-anchor="start" textLength="5.98" lengthAdjust="spacingAndGlyphs" style="font-size:9.0px" >U</text>
<text class="lg" x="450.6" y="256.4" text-anchor="start" textLength="9.66" lengthAdjust="spacingAndGlyphs" style="font-size:9.0px" >Fe</text>
<text class="lg" x="450.6" y="267" text-anchor="start" textLength="10.58" lengthAdjust="spacingAndGlyphs" style="font-size:9.0px" >Co</text>
<text class="lg" x="480.6" y="245.8" text-anchor="start" textLength="7.82" lengthAdjust="spacingAndGlyphs" style="font-size:9.0px" >Ni</text>
<text class="lg" x="480.6" y="256.4" text-anchor="start" textLength="10.58" lengthAdjust="spacingAndGlyphs" style="font-size:9.0px" >Cu</text>
<text class="lg" x="480.6" y="267" text-anchor="start" textLength="5.52" lengthAdjust="spacingAndGlyphs" style="font-size:9.0px" >V</text>
<path d="M449.20,343.6 V350.8" stroke="#aaa" stroke-width="0.65" fill="none"/>
<path d="M447.80,343.6 h2.8" stroke="#777" stroke-width="0.6"/>
<path d="M447.80,350.8 h2.8" stroke="#999" stroke-width="0.6"/>
<path d="M460.00,333.4 V346.2" stroke="#999" stroke-width="0.65" fill="none"/>
<path d="M458.60,333.4 h2.8" stroke="#444" stroke-width="0.6"/>
<path d="M458.60,346.2 h2.8" stroke="#888" stroke-width="0.6"/>
<path d="M470.80,325 V339.8" stroke="#e6e6e6" stroke-width="0.65" fill="none"/>
<path d="M469.40,339.8 h2.8" stroke="#ccc" stroke-width="0.6"/>
<path d="M481.60,309.6 V331" stroke="#555" stroke-width="0.65" fill="none"/>
<path d="M480.20,309.6 h2.8" stroke="#555" stroke-width="0.6"/>
<path d="M480.20,331 h2.8" stroke="#555" stroke-width="0.6"/>
<path d="M492.40,294.4 V325" stroke="#666" stroke-width="0.65" fill="none"/>
<path d="M491.00,294.4 h2.8" stroke="#777" stroke-width="0.6"/>
<path d="M491.00,325 h2.8" stroke="#777" stroke-width="0.6"/>
<path d="M503.20,285 V319" stroke="#444" stroke-width="0.65" fill="none"/>
<path d="M501.80,319 h2.8" stroke="#666" stroke-width="0.6"/>
<path d="M514.00,273 V313.4" stroke="#888" stroke-width="0.65" fill="none"/>
<path d="M512.60,313.4 h2.8" stroke="#777" stroke-width="0.6"/>
<path d="M524.80,264 V308" stroke="#9a9a9a" stroke-width="0.65" fill="none"/>
<path d="M523.40,308 h2.8" stroke="#777" stroke-width="0.6"/>
<path d="M535.60,254 V300.4" stroke="#c4c4c4" stroke-width="0.65" fill="none"/>
<path d="M534.20,300.4 h2.8" stroke="#555" stroke-width="0.6"/>
<path d="M546.40,248 V293.6" stroke="#eeeeee" stroke-width="0.65" fill="none"/>
<path d="M545.00,248 h2.8" stroke="#ddd" stroke-width="0.6"/>
<path d="M545.00,293.6 h2.8" stroke="#888" stroke-width="0.6"/>
<path d="M557.20,239 V285.4" stroke="#cfcfcf" stroke-width="0.65" fill="none"/>
<path d="M555.80,285.4 h2.8" stroke="#ccc" stroke-width="0.6"/>
<path d="M568.00,232 V279.4" stroke="#cfcfcf" stroke-width="0.65" fill="none"/>
<path d="M566.60,232 h2.8" stroke="#555" stroke-width="0.6"/>
<path d="M566.60,279.4 h2.8" stroke="#ccc" stroke-width="0.6"/>
<path d="M438.40,357.20 H568.00" stroke="#8fb4e6" stroke-width="0.9" stroke-dasharray="2.6 1.4"/>
<circle cx="449.20" cy="357.20" r="3.0" fill="#a9c4ea" stroke="#3a55b8" stroke-width="1.2"/>
<path d="M447.50,357.20 h3.4" stroke="#333" stroke-width="0.7"/>
<circle cx="460.00" cy="357.20" r="3.0" fill="#a9c4ea" stroke="#3a55b8" stroke-width="1.2"/>
<path d="M458.30,357.20 h3.4" stroke="#333" stroke-width="0.7"/>
<circle cx="470.80" cy="357.20" r="3.0" fill="#a9c4ea" stroke="#3a55b8" stroke-width="1.2"/>
<path d="M469.10,357.20 h3.4" stroke="#333" stroke-width="0.7"/>
<circle cx="481.60" cy="357.20" r="3.0" fill="#a9c4ea" stroke="#3a55b8" stroke-width="1.2"/>
<path d="M479.90,357.20 h3.4" stroke="#333" stroke-width="0.7"/>
<circle cx="492.40" cy="357.20" r="3.0" fill="#a9c4ea" stroke="#3a55b8" stroke-width="1.2"/>
<path d="M492.40,354.60 V358.40 M490.80,357.00 L492.40,358.60 L494.00,357.00" stroke="#333" stroke-width="0.6" fill="none"/>
<circle cx="503.20" cy="357.20" r="3.0" fill="#a9c4ea" stroke="#3a55b8" stroke-width="1.2"/>
<path d="M503.20,354.60 V358.40 M501.60,357.00 L503.20,358.60 L504.80,357.00" stroke="#333" stroke-width="0.6" fill="none"/>
<circle cx="514.00" cy="357.20" r="3.0" fill="#a9c4ea" stroke="#3a55b8" stroke-width="1.2"/>
<path d="M514.00,354.60 V358.40 M512.40,357.00 L514.00,358.60 L515.60,357.00" stroke="#333" stroke-width="0.6" fill="none"/>
<circle cx="524.80" cy="357.20" r="3.0" fill="#a9c4ea" stroke="#3a55b8" stroke-width="1.2"/>
<path d="M524.80,354.60 V358.40 M523.20,357.00 L524.80,358.60 L526.40,357.00" stroke="#333" stroke-width="0.6" fill="none"/>
<circle cx="535.60" cy="357.20" r="3.0" fill="#a9c4ea" stroke="#3a55b8" stroke-width="1.2"/>
<path d="M535.60,354.60 V358.40 M534.00,357.00 L535.60,358.60 L537.20,357.00" stroke="#333" stroke-width="0.6" fill="none"/>
<circle cx="546.40" cy="357.20" r="3.0" fill="#a9c4ea" stroke="#3a55b8" stroke-width="1.2"/>
<path d="M546.40,354.60 V358.40 M544.80,357.00 L546.40,358.60 L548.00,357.00" stroke="#333" stroke-width="0.6" fill="none"/>
<circle cx="557.20" cy="357.20" r="3.0" fill="#a9c4ea" stroke="#3a55b8" stroke-width="1.2"/>
<path d="M557.20,354.60 V358.40 M555.60,357.00 L557.20,358.60 L558.80,357.00" stroke="#333" stroke-width="0.6" fill="none"/>
<circle cx="568.00" cy="357.20" r="3.0" fill="#a9c4ea" stroke="#3a55b8" stroke-width="1.2"/>
<path d="M568.00,354.60 V358.40 M566.40,357.00 L568.00,358.60 L569.60,357.00" stroke="#333" stroke-width="0.6" fill="none"/>
<rect x="435.60" y="354.40" width="5.6" height="5.6" fill="#8d93da" stroke="#3a55b8" stroke-width="1.0" opacity="1"/>
<path d="M441.64,355.91 L568.00,249.81" stroke="#cf3040" stroke-width="0.9" stroke-dasharray="2.6 1.7"/>
<rect x="446.40" y="344.36" width="5.6" height="5.6" fill="#f4a3b0" stroke="#ea8d9c" stroke-width="0.5" opacity="0.85"/>
<rect x="457.20" y="336.68" width="5.6" height="5.6" fill="#f4a3b0" stroke="#ea8d9c" stroke-width="0.5" opacity="0.85"/>
<rect x="468.00" y="327.72" width="5.6" height="5.6" fill="#f4a3b0" stroke="#ea8d9c" stroke-width="0.5" opacity="0.85"/>
<rect x="478.80" y="318.12" width="5.6" height="5.6" fill="#f4a3b0" stroke="#ea8d9c" stroke-width="0.5" opacity="0.85"/>
<rect x="489.60" y="307.24" width="5.6" height="5.6" fill="#f4a3b0" stroke="#ea8d9c" stroke-width="0.5" opacity="0.85"/>
<rect x="500.40" y="299.24" width="5.6" height="5.6" fill="#f4a3b0" stroke="#ea8d9c" stroke-width="0.5" opacity="0.85"/>
<rect x="511.20" y="290.92" width="5.6" height="5.6" fill="#f4a3b0" stroke="#ea8d9c" stroke-width="0.5" opacity="0.85"/>
<rect x="522.00" y="283.56" width="5.6" height="5.6" fill="#f4a3b0" stroke="#ea8d9c" stroke-width="0.5" opacity="0.85"/>
<rect x="532.80" y="274.92" width="5.6" height="5.6" fill="#f4a3b0" stroke="#ea8d9c" stroke-width="0.5" opacity="0.85"/>
<rect x="543.60" y="268.84" width="5.6" height="5.6" fill="#f4a3b0" stroke="#ea8d9c" stroke-width="0.5" opacity="0.85"/>
<rect x="554.40" y="259.88" width="5.6" height="5.6" fill="#f4a3b0" stroke="#ea8d9c" stroke-width="0.5" opacity="0.85"/>
<rect x="565.20" y="252.52" width="5.6" height="5.6" fill="#f4a3b0" stroke="#ea8d9c" stroke-width="0.5" opacity="0.85"/>
</svg></body></html>
